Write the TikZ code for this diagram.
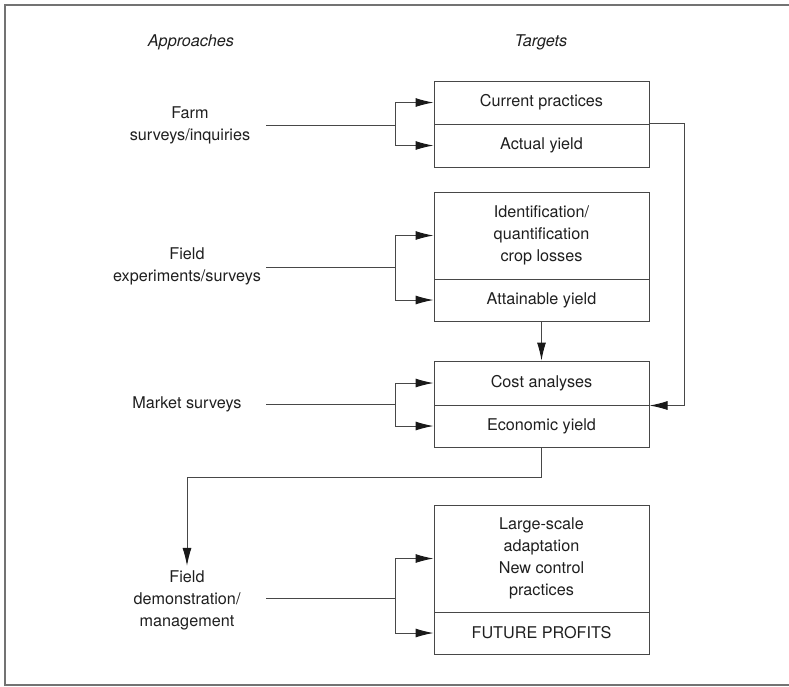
\documentclass[tikz,border=0pt]{standalone}
\usepackage{fontspec}
\setmainfont{TeX Gyre Heros}
\usetikzlibrary{arrows.meta}

\begin{document}
\begin{tikzpicture} [x = 0.5pt, y = -0.5pt,
  every node/.style = {font = \fontsize{8.1}{11}\selectfont, text = black!88},
  seg/.style = {draw = black!72, line width = 0.5pt, minimum width = 107.5pt, inner sep = 0pt, align = center},
  lbl/.style = {align = center, inner sep = 2pt},
  link/.style = {draw = black!72, line width = 0.5pt},
  arr/.style = {link, -{Latex[length = 9pt, width = 4.5pt, color = black!90]}}]
\useasboundingbox (0, 0) rectangle (789, 687);
% frame, its right side is cut off
\draw[black!55, line width = 0.7pt] (800, 5) -- (5, 5) -- (5, 685) -- (800, 685);

% headings
\node (apphead) at (191, 42){\itshape Approaches};
\node (tarhead) at (541, 42){\itshape Targets};

% approaches
\node[lbl] (farm) at (190, 125){Farm\\surveys/inquiries};
\node[lbl] (fexp) at (187, 266){Field\\experiments/surveys};
\node[lbl] (mark) at (187, 404){Market surveys};
\node[lbl] (demo) at (187, 600){Field\\demonstration/\\management};

% targets
\node[seg, minimum height = 21.5pt] (cur) at (541.5, 102.5){Current practices};
\node[seg, minimum height = 21.5pt] (act) at (541.5, 145.5){Actual yield};
\node[seg, minimum height = 43.5pt] (loss) at (541.5, 235.5){Identification/\\quantification\\crop losses};
\node[seg, minimum height = 21pt] (att) at (541.5, 300){Attainable yield};
\node[seg, minimum height = 22pt] (cost) at (541.5, 383){Cost analyses};
\node[seg, minimum height = 21pt] (eco) at (541.5, 426){Economic yield};
\node[seg, minimum height = 53.5pt] (adapt) at (541.5, 558.5){Large-scale\\adaptation\\New control\\practices};
\node[seg, minimum height = 21pt] (prof) at (541.5, 633){FUTURE PROFITS};

% forks
\coordinate (in1) at (266, 125);
\coordinate (fk1) at (395, 125);
\coordinate (in2) at (266, 267);
\coordinate (fk2) at (395, 267);
\coordinate (in3) at (266, 404);
\coordinate (fk3) at (395, 404);
\coordinate (in4) at (266, 598);
\coordinate (fk4) at (395, 598);
\draw[link] (in1) -- (fk1);
\draw[arr] (fk1) |- (cur);
\draw[arr] (fk1) |- (act);
\draw[link] (in2) -- (fk2);
\draw[arr] (fk2) |- (loss);
\draw[arr] (fk2) |- (att);
\draw[link] (in3) -- (fk3);
\draw[arr] (fk3) |- (cost);
\draw[arr] (fk3) |- (eco);
\draw[link] (in4) -- (fk4);
\draw[arr] (fk4) |- (adapt);
\draw[arr] (fk4) |- (prof);

% links between targets
\draw[arr] (att.south) -- (cost.north);
\draw[arr] (act.north east) -- ++(35, 0) |- (cost.south east);
\draw[arr] (eco.south) -- ++(0, 30) -| (demo.north);
\end{tikzpicture}
\end{document}
